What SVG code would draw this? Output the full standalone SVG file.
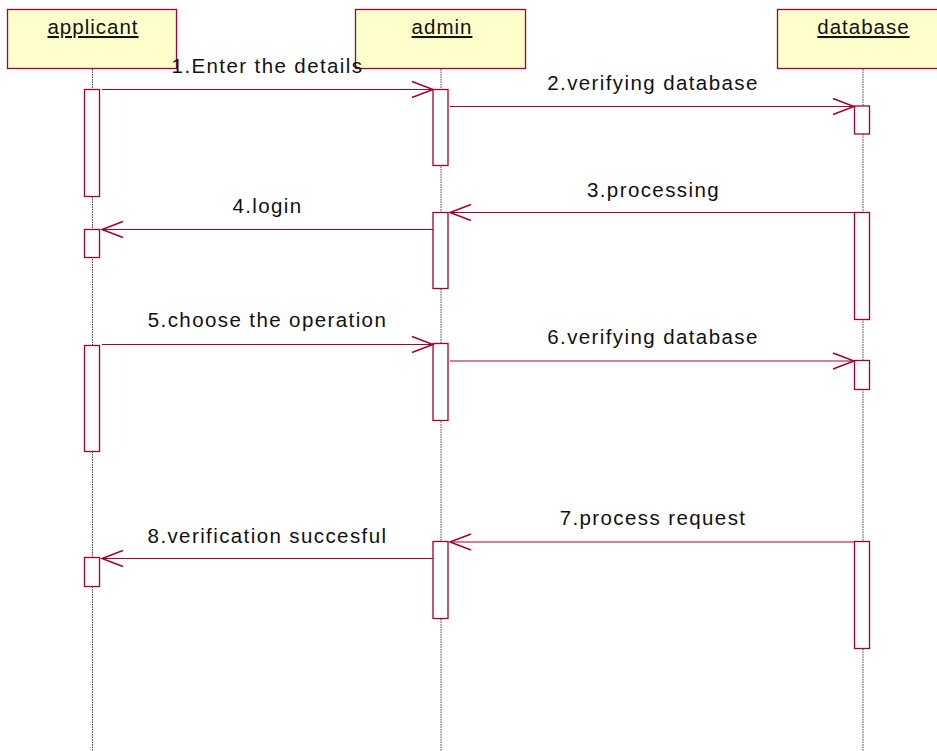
<svg xmlns="http://www.w3.org/2000/svg" width="937" height="751" viewBox="0 0 937 751">
<defs>
<style>
.obj{fill:#ffffcc;stroke:#a50034;stroke-width:1.3}
.hdr{font-family:"Liberation Sans",Arial,sans-serif;font-size:20.5px;letter-spacing:1px;fill:#111;text-anchor:middle;text-decoration:underline}
.life{stroke:#444;stroke-width:1;stroke-dasharray:1.5,1}
.act{fill:#fff;stroke:#a50034;stroke-width:1.3}
.msg{stroke:#a50034;stroke-width:1.2;fill:none}
.head{stroke:#a50034;stroke-width:1.5;fill:none}
.lbl{font-family:"Liberation Sans",Arial,sans-serif;font-size:20.5px;letter-spacing:1.4px;fill:#111;text-anchor:middle}
</style>
</defs>
<rect width="937" height="751" fill="#fff"/>
<g id="applicant">
<rect class="obj" x="7.5" y="9.5" width="169" height="59"/>
<text class="hdr" x="93" y="34">applicant</text>
<line class="life" x1="92.5" y1="69" x2="92.5" y2="751"/>
<rect class="act" x="84.5" y="89.5" width="15" height="107"/>
<rect class="act" x="84.5" y="229.5" width="15" height="28"/>
<rect class="act" x="84.5" y="345.5" width="15" height="106"/>
<rect class="act" x="84.5" y="557.5" width="15" height="29"/>
</g>
<g id="admin">
<rect class="obj" x="355.5" y="9.5" width="170" height="59"/>
<text class="hdr" x="442" y="34">admin</text>
<line class="life" x1="441" y1="69" x2="441" y2="751"/>
<rect class="act" x="433" y="89.5" width="15" height="76"/>
<rect class="act" x="433" y="212.5" width="15" height="76"/>
<rect class="act" x="433" y="343.5" width="15" height="77"/>
<rect class="act" x="433" y="541.5" width="15" height="77"/>
</g>
<g id="database">
<rect class="obj" x="777.5" y="9.5" width="170" height="59"/>
<text class="hdr" x="863.5" y="34">database</text>
<line class="life" x1="863" y1="69" x2="863" y2="751"/>
<rect class="act" x="854.5" y="106" width="15" height="28"/>
<rect class="act" x="854.5" y="212.5" width="15" height="107"/>
<rect class="act" x="854.5" y="360.5" width="15" height="29"/>
<rect class="act" x="854.5" y="541.5" width="15" height="107"/>
</g>
<g id="connectors">
<line class="msg" x1="102" y1="89.5" x2="433" y2="89.5"/>
<polyline class="head" points="412,81.5 433,89.5 412,97.5"/>
<text class="lbl" x="267.5" y="73">1.Enter the details</text>

<line class="msg" x1="450" y1="106.5" x2="854" y2="106.5"/>
<polyline class="head" points="833,98.5 854,106.5 833,114.5"/>
<text class="lbl" x="653" y="90">2.verifying database</text>

<line class="msg" x1="450" y1="212.5" x2="854" y2="212.5"/>
<polyline class="head" points="471,204.5 450,212.5 471,220.5"/>
<text class="lbl" x="653.5" y="197">3.processing</text>

<line class="msg" x1="102" y1="229.5" x2="433" y2="229.5"/>
<polyline class="head" points="123,221.5 102,229.5 123,237.5"/>
<text class="lbl" x="267.5" y="213">4.login</text>

<line class="msg" x1="102" y1="344.5" x2="433" y2="344.5"/>
<polyline class="head" points="412,336.5 433,344.5 412,352.5"/>
<text class="lbl" x="267.5" y="327">5.choose the operation</text>

<line class="msg" x1="450" y1="361" x2="854" y2="361"/>
<polyline class="head" points="833,353 854,361 833,369"/>
<text class="lbl" x="653" y="344">6.verifying database</text>

<line class="msg" x1="450" y1="542" x2="854" y2="542"/>
<polyline class="head" points="471,534 450,542 471,550"/>
<text class="lbl" x="653" y="525">7.process request</text>

<line class="msg" x1="102" y1="558.5" x2="433" y2="558.5"/>
<polyline class="head" points="123,550.5 102,558.5 123,566.5"/>
<text class="lbl" x="267.5" y="543">8.verification succesful</text>
</g>
</svg>
